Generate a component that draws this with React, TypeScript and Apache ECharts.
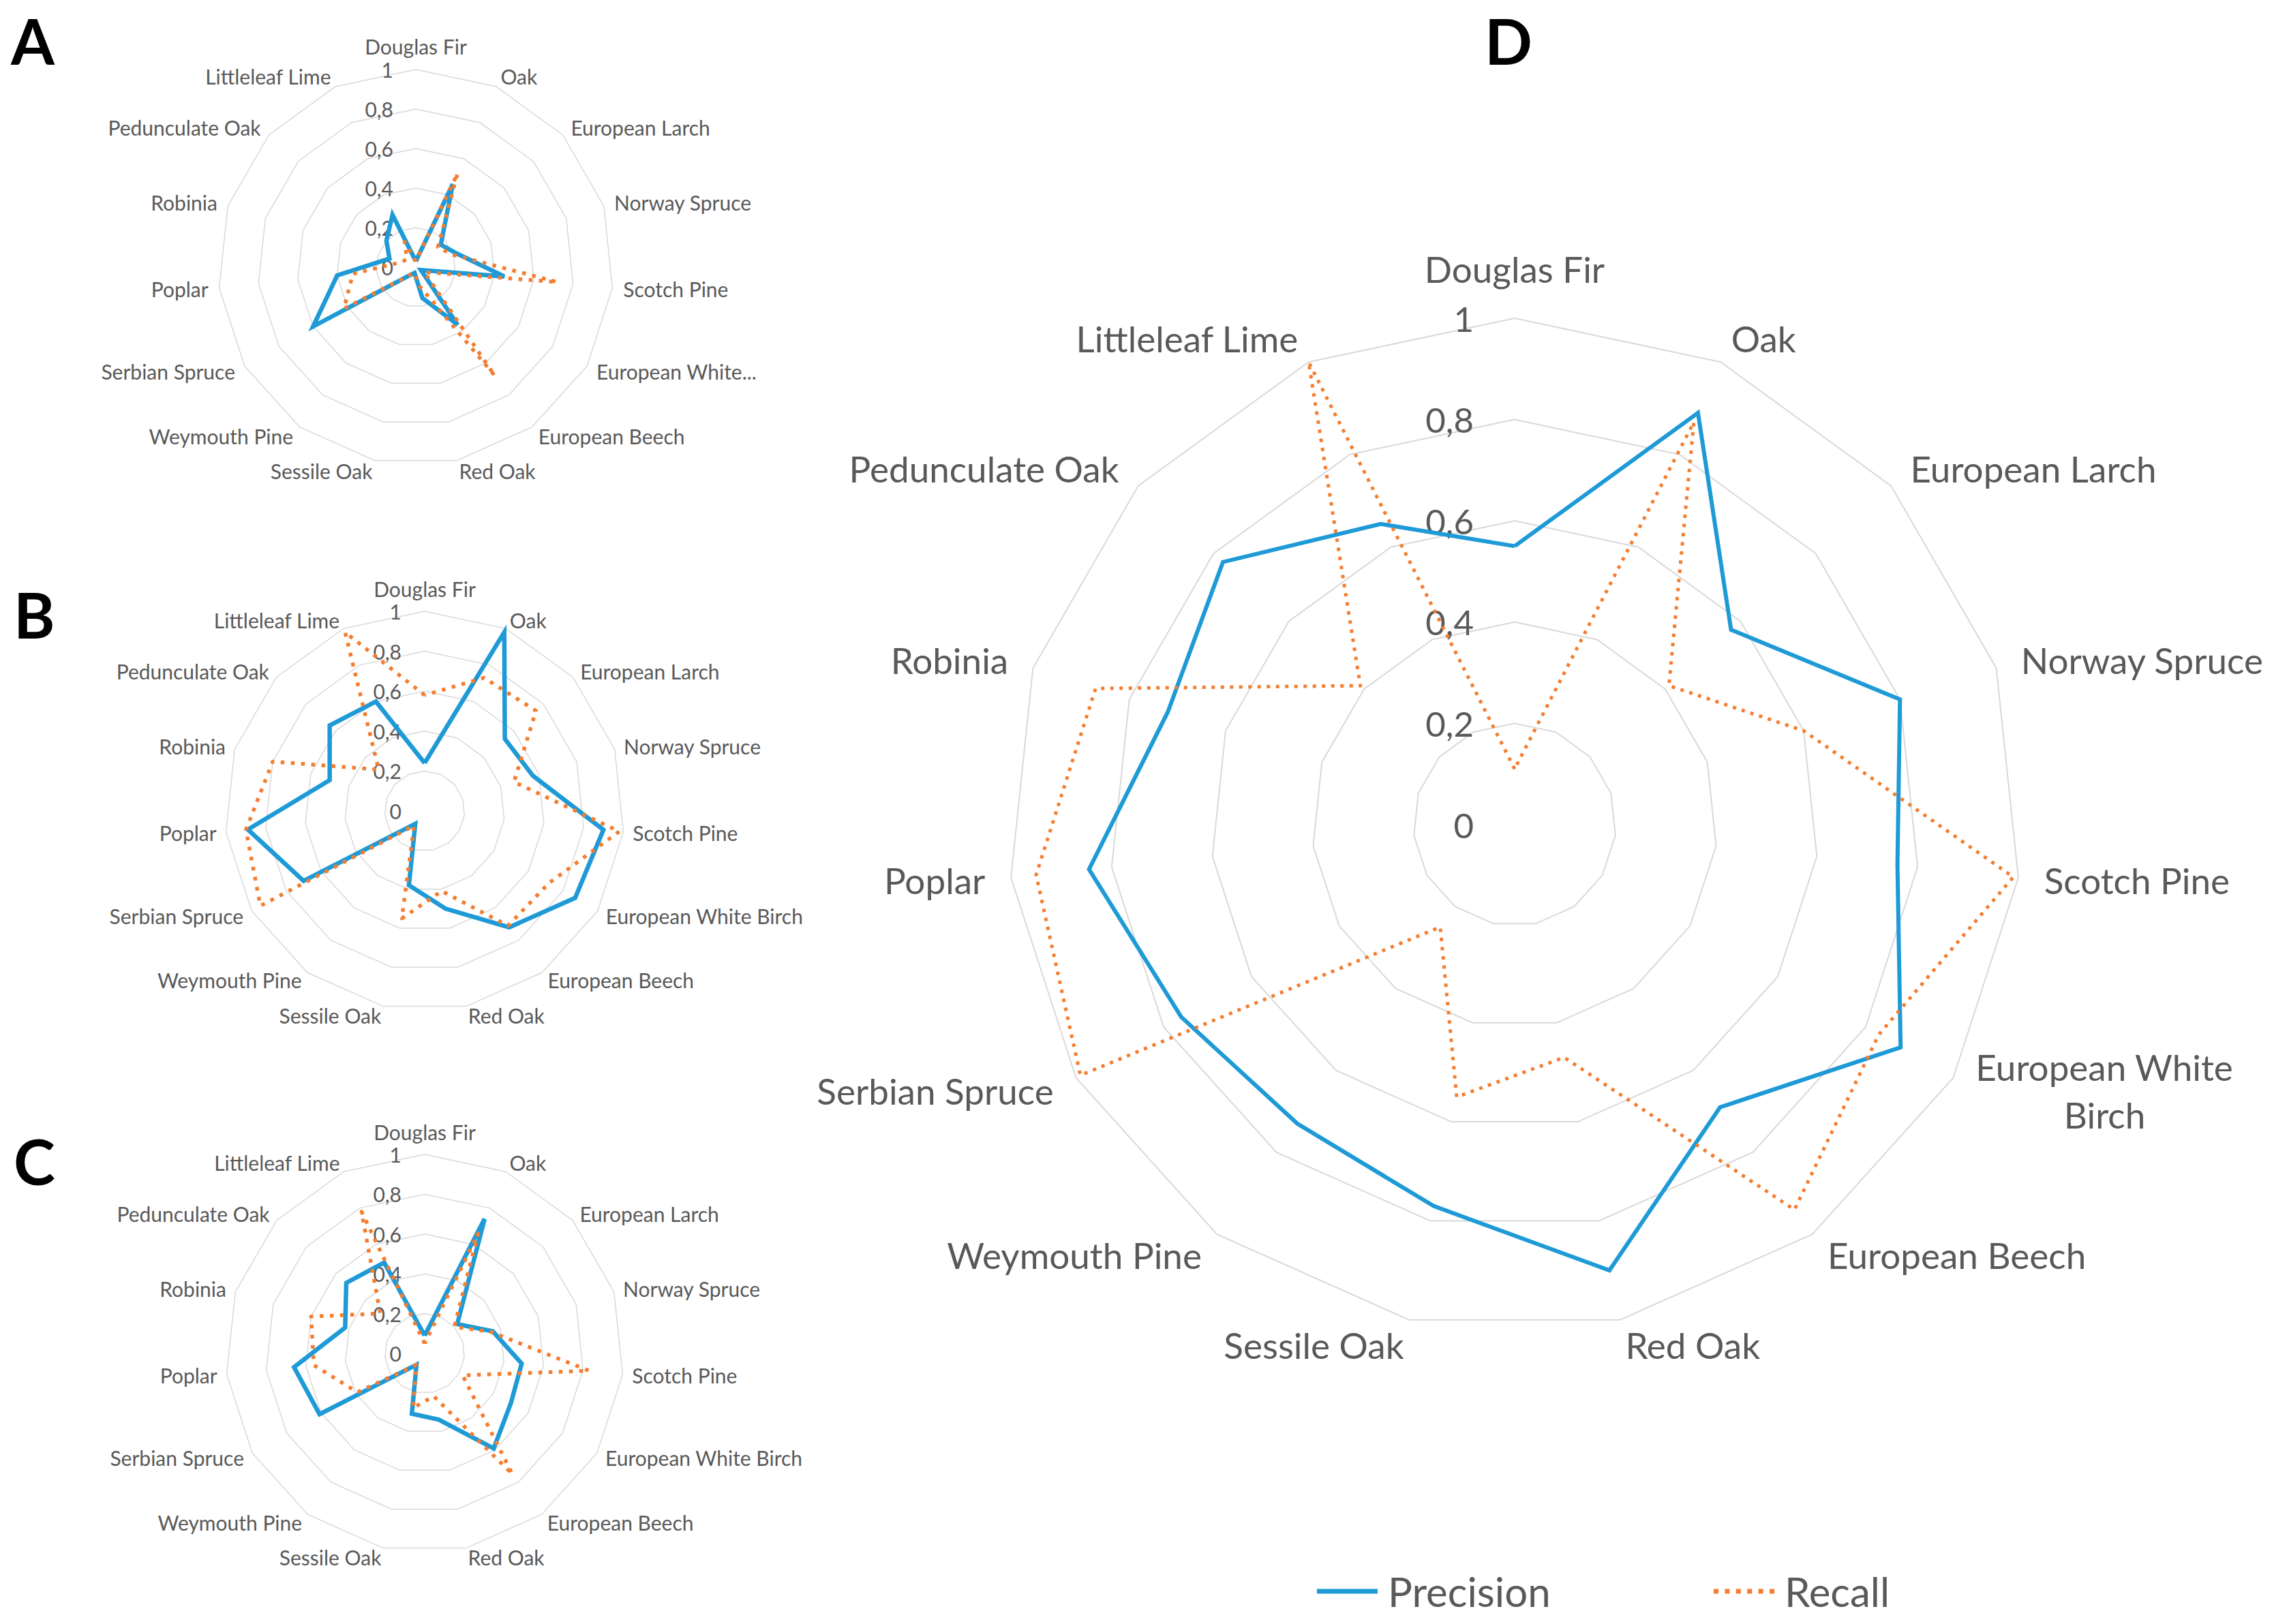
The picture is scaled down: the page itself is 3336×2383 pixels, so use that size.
import React, { useEffect, useRef } from 'react';
import * as echarts from 'echarts';

// ---------- data ----------
const categories = [
  'Douglas Fir', 'Oak', 'European Larch', 'Norway Spruce', 'Scotch Pine',
  'European White Birch', 'European Beech', 'Red Oak', 'Sessile Oak', 'Weymouth Pine',
  'Serbian Spruce', 'Poplar', 'Robinia', 'Pedunculate Oak', 'Littleleaf Lime',
];
const seriesNames = ['Precision', 'Recall'];
const panelLetters = ['A', 'B', 'C', 'D'];
const axisMin = 0;
const axisMax = 1;
const axisSplits = 5;

const precisionA = [0.03, 0.46, 0.17, 0.22, 0.45, 0.03, 0.36, 0.16, 0.03, 0.05, 0.60, 0.40, 0.14, 0.20, 0.29];
const recallA    = [0.03, 0.52, 0.15, 0.20, 0.72, 0.05, 0.68, 0.10, 0.03, 0.05, 0.42, 0.32, 0.08, 0.06, 0.14];
const precisionB = [0.24, 0.98, 0.54, 0.57, 0.90, 0.87, 0.72, 0.50, 0.38, 0.08, 0.70, 0.89, 0.50, 0.64, 0.60];
const recallB    = [0.58, 0.73, 0.75, 0.47, 0.98, 0.72, 0.71, 0.41, 0.55, 0.09, 0.95, 0.90, 0.80, 0.31, 0.98];
const precisionC = [0.09, 0.74, 0.22, 0.36, 0.49, 0.50, 0.59, 0.34, 0.31, 0.07, 0.61, 0.66, 0.42, 0.53, 0.50];
const recallC    = [0.05, 0.66, 0.20, 0.35, 0.83, 0.22, 0.75, 0.22, 0.28, 0.07, 0.39, 0.56, 0.60, 0.30, 0.78];
const precisionD = [0.55, 0.89, 0.575, 0.80, 0.76, 0.88, 0.69, 0.90, 0.77, 0.73, 0.76, 0.845, 0.72, 0.775, 0.65];
const recallD    = [0.11, 0.87, 0.41, 0.60, 0.99, 0.83, 0.94, 0.47, 0.55, 0.25, 0.99, 0.95, 0.87, 0.41, 1.0];

const precisionPanels = [precisionA, precisionB, precisionC, precisionD];
const recallPanels = [recallA, recallB, recallC, recallD];

// ---------- style / layout ----------
const FONT = 'Lato, "Open Sans", "DejaVu Sans", sans-serif';
const BLUE = '#1E9AD6';
const ORANGE = '#F47D30';
const TEXT = '#595959';
const GRID = '#D9D9D9';

const layouts = [
  { center: [610, 392], radius: 290, nameSize: 30, tickSize: 30, nameGap: 16, labelMargin: 33, blueW: 6.5, orangeW: 5.5, dash: [5.5, 9.5], gridW: 1.5, mode: 'truncate', lineH: 36 },
  { center: [623, 1190], radius: 293, nameSize: 30, tickSize: 30, nameGap: 14, labelMargin: 34, blueW: 6.5, orangeW: 5.5, dash: [5.5, 9.5], gridW: 1.5, mode: 'plain', lineH: 36 },
  { center: [623, 1986], radius: 292, nameSize: 30, tickSize: 30, nameGap: 14, labelMargin: 34, blueW: 6.5, orangeW: 5.5, dash: [5.5, 9.5], gridW: 1.5, mode: 'plain', lineH: 36 },
  { center: [2222, 1210], radius: 743, nameSize: 53, tickSize: 51, nameGap: 38, labelMargin: 60, blueW: 6, orangeW: 5, dash: [5, 8.5], gridW: 2, mode: 'wrap', lineH: 70 },
];
const letterPos = [[16, 13], [20, 855], [20, 1657], [2178, 13]];

// ECharts radar runs counter-clockwise; the reference runs clockwise.
const order = categories.map((_, i) => (i === 0 ? 0 : categories.length - i));
const reorder = (arr: number[]) => order.map((i) => arr[i]);

const fmtTick = (v: number) => String(Math.round(v * 10) / 10).replace('.', ',');

const dottedIcon = (() => {
  let d = 'path://';
  for (let i = 0; i < 6; i++) {
    const x = (i * 16.4).toFixed(1);
    d += `M${x} 0h7v7h-7z`;
  }
  return d;
})();

function buildOption() {
  const radar = layouts.map((L) => ({
    center: L.center,
    radius: L.radius,
    startAngle: 90,
    shape: 'polygon',
    splitNumber: axisSplits,
    nameGap: L.nameGap,
    indicator: order.map((ci, k) => ({
      name: categories[ci],
      min: axisMin,
      max: axisMax,
      ...(k === 0 ? { axisLabel: { show: true } } : {}),
    })),
    axisName: {
      color: TEXT,
      fontSize: L.nameSize,
      fontFamily: FONT,
      lineHeight: L.lineH,
      formatter: (name: string) => {
        if (name === 'European White Birch') {
          if (L.mode === 'truncate') return 'European White...';
          if (L.mode === 'wrap') return 'European White\n{b|Birch}';
        }
        return name;
      },
      rich: {
        b: { align: 'center', color: TEXT, fontSize: L.nameSize, fontFamily: FONT, lineHeight: L.lineH },
      },
    },
    axisLine: { show: false },
    axisTick: { show: false },
    axisLabel: {
      show: false,
      color: TEXT,
      fontSize: L.tickSize,
      fontFamily: FONT,
      margin: L.labelMargin,
      formatter: (v: number) => fmtTick(v),
    },
    splitLine: { show: true, lineStyle: { color: GRID, width: L.gridW } },
    splitArea: { show: false },
  }));

  const series = layouts.map((L, p) => ({
    type: 'radar',
    radarIndex: p,
    symbol: 'none',
    silent: true,
    data: [
      {
        name: seriesNames[0],
        value: reorder(precisionPanels[p]),
        lineStyle: { color: BLUE, width: L.blueW, type: 'solid', join: 'miter' },
        itemStyle: { color: BLUE },
      },
      {
        name: seriesNames[1],
        value: reorder(recallPanels[p]),
        lineStyle: { color: ORANGE, width: L.orangeW, type: L.dash, cap: 'butt' },
        itemStyle: { color: ORANGE },
      },
    ],
  }));

  const legendCommon = {
    top: 2305,
    itemWidth: 89,
    itemHeight: 7,
    selectedMode: false,
    padding: 0,
    textStyle: { fontSize: 60, color: TEXT, fontFamily: FONT, padding: [0, 0, 0, 10] },
  };

  return {
    animation: false,
    backgroundColor: '#ffffff',
    title: panelLetters.map((t, i) => ({
      text: t,
      left: letterPos[i][0],
      top: letterPos[i][1],
      padding: 0,
      textStyle: { fontSize: 92, fontWeight: 'bold', color: '#000000', fontFamily: FONT },
    })),
    legend: [
      { ...legendCommon, left: 1932, data: [{ name: seriesNames[0], icon: 'rect' }] },
      { ...legendCommon, left: 2514, data: [{ name: seriesNames[1], icon: dottedIcon }] },
    ],
    radar,
    series,
  };
}

export default function App() {
  const ref = useRef<HTMLDivElement>(null);
  useEffect(() => {
    if (!ref.current) return;
    const chart = echarts.init(ref.current, undefined, { renderer: 'svg' });
    chart.setOption(buildOption() as any);
    return () => chart.dispose();
  }, []);
  return (
    <div
      ref={ref}
      style={{ position: 'absolute', left: 0, top: 0, width: 3336, height: 2383, background: '#fff' }}
    />
  );
}
